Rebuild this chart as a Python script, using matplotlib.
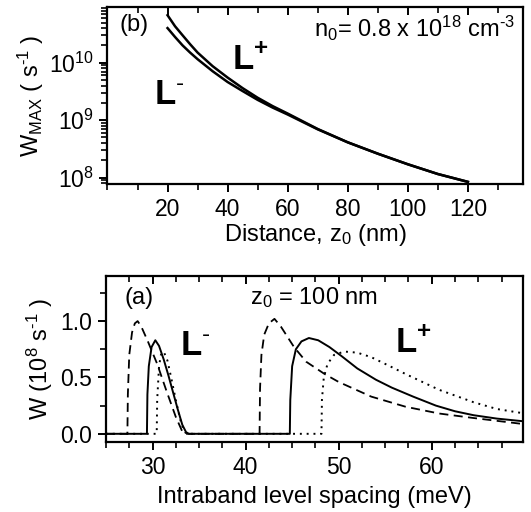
import numpy as np
import matplotlib
matplotlib.use("Agg")
import matplotlib.pyplot as plt
from matplotlib.ticker import MultipleLocator, LogLocator, NullFormatter, FormatStrFormatter

plt.rcParams["font.family"] = ["Liberation Sans", "DejaVu Sans"]
plt.rcParams["mathtext.fontset"] = "custom"
plt.rcParams["mathtext.rm"] = "Liberation Sans"
plt.rcParams["mathtext.it"] = "Liberation Sans"
plt.rcParams["mathtext.bf"] = "Liberation Sans:bold"

# panel (b): W_MAX vs distance
z0 = [20, 22.5, 25, 27.5, 30, 35, 40, 45, 50, 55, 60, 70, 80, 90, 100, 110, 120]
wmax_plus = [6.7e10, 4.3e10, 3.0e10, 2.1e10, 1.5e10, 8.7e9, 5.5e9, 3.6e9, 2.45e9, 1.75e9,
             1.3e9, 7.0e8, 4.1e8, 2.6e8, 1.7e8, 1.15e8, 8.4e7]
wmax_minus = [4.0e10, 2.8e10, 2.0e10, 1.5e10, 1.15e10, 7.1e9, 4.6e9, 3.2e9, 2.25e9, 1.65e9,
              1.25e9, 6.9e8, 4.1e8, 2.6e8, 1.7e8, 1.15e8, 8.4e7]

# panel (a): W vs level spacing, three curves
dash_x = [25, 27.3, 27.35, 27.5, 27.8, 28.1, 28.4, 28.8, 29.5, 30.5, 31.5, 32.5, 33.2, 33.5,
          41.5, 41.55, 41.7, 42.0, 42.5, 43.1, 43.8, 45.2, 46.5, 48.5, 50, 53.5, 57.2, 60.8, 64.5, 70]
dash_y = [0, 0, 0.35, 0.7, 0.9, 0.98, 1.0, 0.95, 0.82, 0.62, 0.38, 0.15, 0.02, 0,
          0, 0.4, 0.7, 0.88, 0.98, 1.02, 0.95, 0.77, 0.64, 0.53, 0.46, 0.33, 0.24, 0.18, 0.14, 0.085]
solid_x = [25, 29.4, 29.45, 29.6, 29.9, 30.3, 30.7, 31.2, 31.7, 32.2, 32.7, 33.2, 33.6, 33.9,
           44.75, 44.8, 45.0, 45.4, 46.0, 46.8, 47.8, 49, 50.3, 52, 54, 55.7, 58, 60.45, 62.5, 64.5, 67, 70]
solid_y = [0, 0, 0.35, 0.6, 0.77, 0.83, 0.78, 0.66, 0.52, 0.37, 0.22, 0.08, 0.015, 0,
           0, 0.3, 0.6, 0.75, 0.82, 0.85, 0.83, 0.77, 0.69, 0.58, 0.48, 0.41, 0.33, 0.25, 0.2, 0.165, 0.135, 0.11]
dot_x = [25, 30.45, 30.5, 30.7, 30.9, 31.2, 31.6, 32.0, 32.5, 33.0, 33.4, 33.7,
         48.15, 48.2, 48.4, 48.8, 49.5, 50.6, 52, 53.5, 55.5, 57.2, 60.8, 64.5, 67, 70]
dot_y = [0, 0, 0.3, 0.6, 0.7, 0.73, 0.65, 0.5, 0.3, 0.12, 0.02, 0,
         0, 0.3, 0.5, 0.62, 0.7, 0.73, 0.72, 0.68, 0.6, 0.53, 0.39, 0.28, 0.22, 0.18]

fig = plt.figure(figsize=(5.31, 5.12), dpi=100)
ax1 = fig.add_axes([0.2024, 0.6412, 0.7834, 0.3445])
ax2 = fig.add_axes([0.1996, 0.1373, 0.7853, 0.3236])

fs = 17
tfs = 16.5
lfs = 25
for ax in (ax1, ax2):
    for s in ax.spines.values():
        s.set_linewidth(1.6)
    ax.tick_params(which="major", direction="out", length=6, width=1.4, labelsize=tfs, pad=4)
    ax.tick_params(which="minor", direction="out", length=4, width=1.2)
    ax.tick_params(axis="x", which="both", top=True)

# top panel
ax1.semilogy(z0, wmax_plus, color="black", lw=1.8)
ax1.semilogy(z0, wmax_minus, color="black", lw=1.8)
ax1.set_xlim(0, 138.5)
ax1.set_ylim(7.8e7, 9.2e10)
ax1.set_xticks([20, 40, 60, 80, 100, 120])
ax1.xaxis.set_minor_locator(MultipleLocator(10))
ax1.yaxis.set_major_locator(LogLocator(base=10, numticks=10))
ax1.yaxis.set_minor_locator(LogLocator(base=10, subs=np.arange(2, 10), numticks=20))
ax1.yaxis.set_minor_formatter(NullFormatter())
ax1.set_xlabel("Distance, z$_0$ (nm)", fontsize=fs, labelpad=1)
ax1.set_ylabel("W$_{MAX}$ ( s$^{\\text{-1}}$ )", fontsize=fs, labelpad=2)
ax1.text(0.03, 0.9, "(b)", transform=ax1.transAxes, fontsize=fs, va="center")
ax1.text(0.98, 0.88, "n$_0$= 0.8 x 10$^{18}$ cm$^{\\text{-3}}$", transform=ax1.transAxes,
         fontsize=fs, ha="right", va="center")
ax1.text(0.299, 0.65, "L$^\\mathbf{+}$", transform=ax1.transAxes, fontsize=lfs,
         fontweight="bold", va="baseline")
ax1.text(0.111, 0.45, "L$^{\\text{-}}$", transform=ax1.transAxes, fontsize=lfs,
         fontweight="bold", va="baseline")

# bottom panel
ax2.plot(dot_x, dot_y, color="black", lw=1.4, linestyle=(0, (1, 2.5)))
ax2.plot(dash_x, dash_y, color="black", lw=1.3, linestyle=(0, (5, 3)))
ax2.plot(solid_x, solid_y, color="black", lw=1.4)
ax2.set_xlim(25, 69.8)
ax2.set_ylim(-0.07, 1.4)
ax2.xaxis.set_major_locator(MultipleLocator(10))
ax2.xaxis.set_minor_locator(MultipleLocator(2.5))
ax2.yaxis.set_major_locator(MultipleLocator(0.5))
ax2.yaxis.set_minor_locator(MultipleLocator(0.25))
ax2.yaxis.set_major_formatter(FormatStrFormatter("%.1f"))
ax2.set_xlabel("Intraband level spacing (meV)", fontsize=fs, labelpad=5)
ax2.set_ylabel("W (10$^8$ s$^{\\text{-1}}$ )", fontsize=fs, labelpad=4)
ax2.text(0.045, 0.87, "(a)", transform=ax2.transAxes, fontsize=fs, va="center")
ax2.text(0.5, 0.87, "z$_0$ = 100 nm", transform=ax2.transAxes, fontsize=fs,
         ha="center", va="center")
ax2.text(0.177, 0.523, "L$^{\\text{-}}$", transform=ax2.transAxes, fontsize=lfs,
         fontweight="bold", va="baseline")
ax2.text(0.693, 0.54, "L$^\\mathbf{+}$", transform=ax2.transAxes, fontsize=lfs,
         fontweight="bold", va="baseline")

# top-edge ticks point inward, as in the original
for ax in (ax1, ax2):
    for t in ax.xaxis.get_major_ticks() + ax.xaxis.get_minor_ticks():
        t.tick2line.set_marker(matplotlib.markers.TICKDOWN)

fig.savefig("out.png", dpi=100)
